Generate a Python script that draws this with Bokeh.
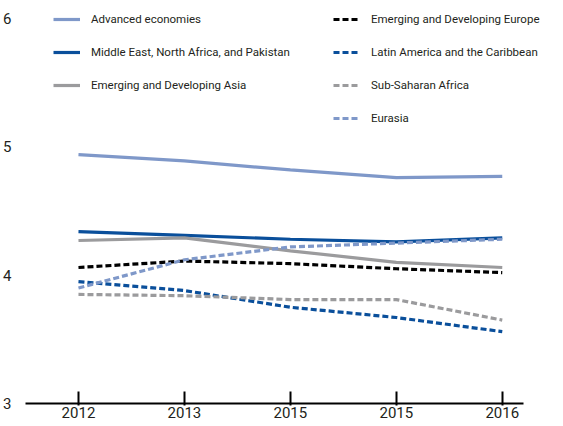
from bokeh.plotting import figure
from bokeh.models import Legend, LegendItem, FixedTicker, Range1d
from bokeh.embed import file_html
from bokeh.resources import INLINE

years = ["2012", "2013", "2015", "2015", "2016"]
advanced = [4.94, 4.89, 4.82, 4.76, 4.77]
menap = [4.34, 4.31, 4.28, 4.26, 4.29]
eda_asia = [4.27, 4.29, 4.19, 4.10, 4.06]
ede_europe = [4.06, 4.11, 4.09, 4.05, 4.02]
latam = [3.95, 3.88, 3.75, 3.67, 3.56]
ssa = [3.85, 3.84, 3.81, 3.81, 3.65]
eurasia = [3.90, 4.12, 4.22, 4.25, 4.28]
y_ticks = [3, 4, 5, 6]

x = list(range(len(years)))
FONT = "Roboto"
TXT = "#231f20"
LIGHT = "#7f98c9"
DARK = "#0a4f9b"
GRAY = "#9b9b9d"

p = figure(width=547, height=420, output_backend="svg", toolbar_location=None,
           x_range=Range1d(-0.5, 4.427), y_range=Range1d(3, 6.0625),
           min_border_left=0, min_border_right=0, min_border_top=10, min_border_bottom=0)
p.outline_line_color = None
p.grid.visible = False
p.background_fill_color = "white"

series = [
    ("Advanced economies", advanced, LIGHT, "solid"),
    ("Middle East, North Africa, and Pakistan", menap, DARK, "solid"),
    ("Emerging and Developing Asia", eda_asia, GRAY, "solid"),
    ("Emerging and Developing Europe", ede_europe, "black", "6 3"),
    ("Latin America and the Caribbean", latam, DARK, "6 3"),
    ("Sub-Saharan Africa", ssa, GRAY, "6 3"),
    ("Eurasia", eurasia, LIGHT, "6 3"),
]
renderers = []
for name, vals, col, dash in series:
    r = p.line(x, vals, line_color=col, line_width=3.2, line_dash=dash)
    renderers.append((name, r))

def mk_legend(items, loc):
    lg = Legend(items=[LegendItem(label=n, renderers=[r]) for n, r in items],
                location=loc, orientation="vertical", padding=0, margin=0,
                spacing=17, glyph_width=27, glyph_height=16, label_height=16,
                label_standoff=11, label_text_font=FONT, label_text_font_size="11.5px",
                label_text_color=TXT, background_fill_alpha=0, border_line_color=None)
    return lg

p.add_layout(mk_legend(renderers[:3], (28, 310)))
p.add_layout(mk_legend(renderers[3:], (308, 277)))

xa = p.xaxis[0]
xa.ticker = FixedTicker(ticks=x)
xa.bounds = (-0.5, 4.2)
xa.major_label_overrides = {i: y for i, y in enumerate(years)}
xa.axis_line_width = 2
xa.axis_line_color = "black"
xa.major_tick_line_width = 2
xa.major_tick_in = 12
xa.major_tick_out = 2
xa.minor_tick_line_color = None
xa.major_label_text_font = FONT
xa.major_label_text_font_size = "15px"
xa.major_label_text_color = TXT
xa.major_label_standoff = 1

ya = p.yaxis[0]
ya.ticker = FixedTicker(ticks=y_ticks)
ya.axis_line_color = None
ya.major_tick_line_color = None
ya.minor_tick_line_color = None
ya.major_label_text_font = FONT
ya.major_label_text_font_size = "15px"
ya.major_label_text_color = TXT
ya.major_label_standoff = 8

open("out.html", "w").write(file_html(p, INLINE))
